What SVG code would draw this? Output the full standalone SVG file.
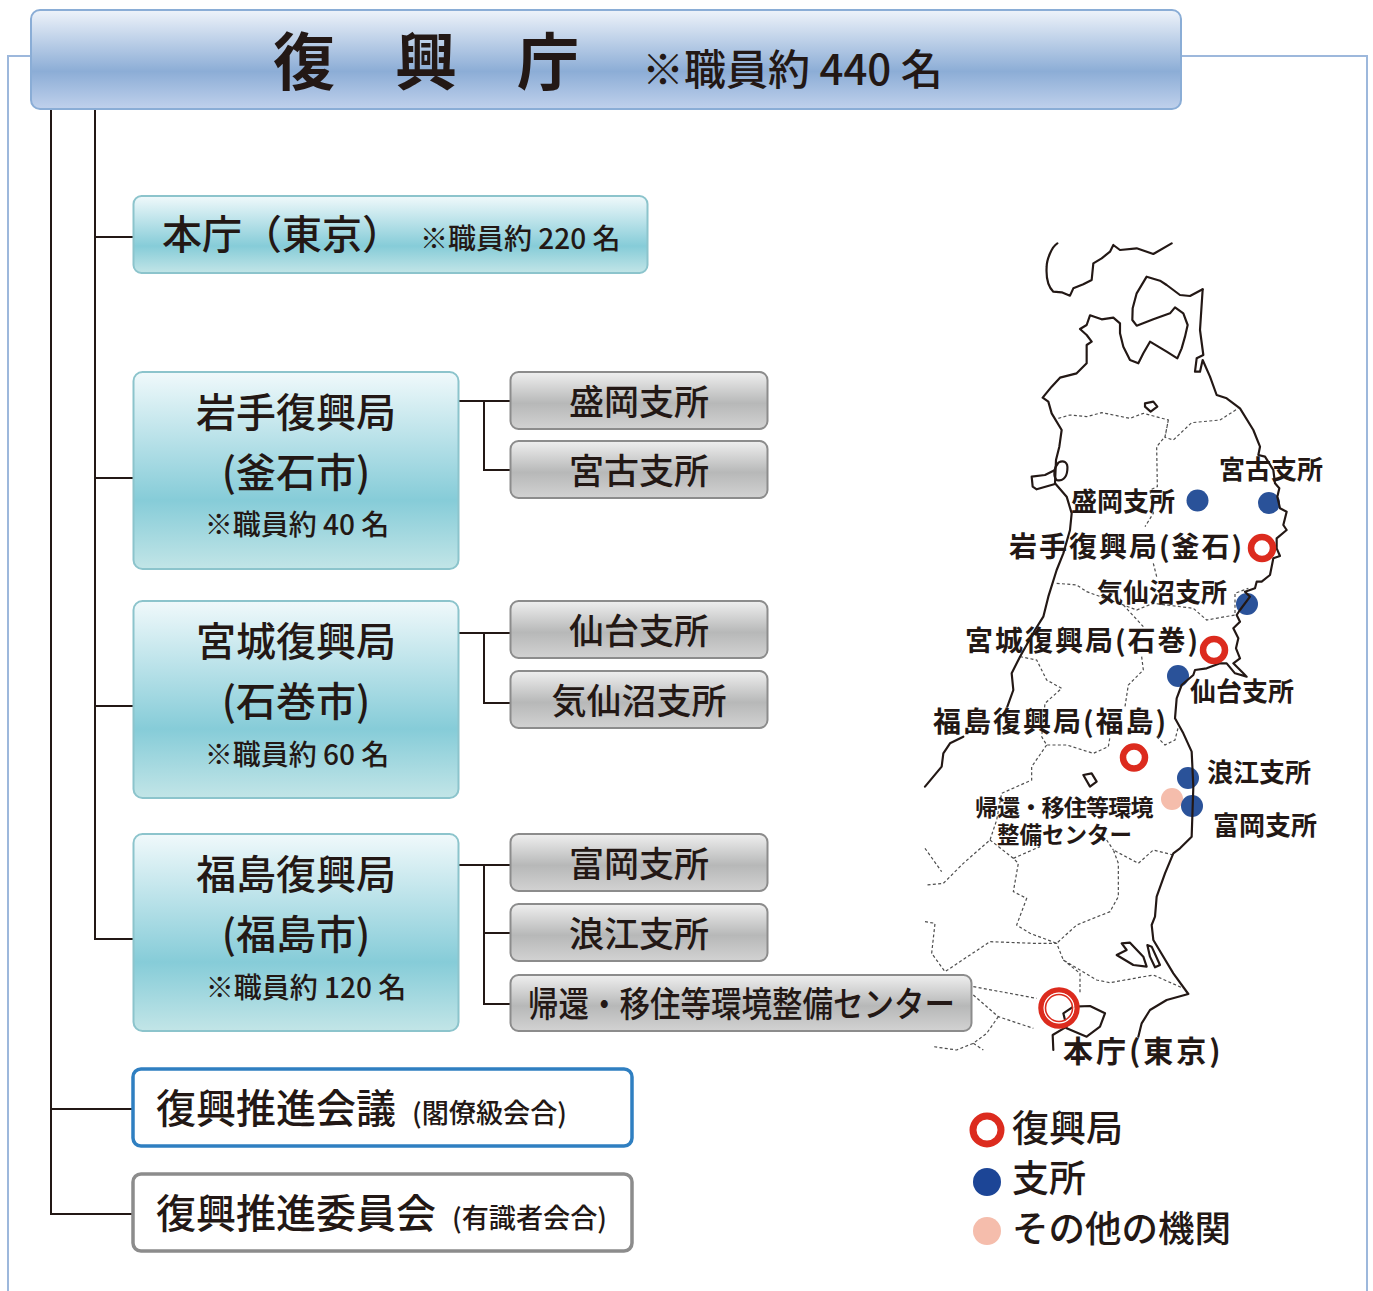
<svg xmlns="http://www.w3.org/2000/svg" width="1373" height="1291" viewBox="0 0 1373 1291">
<style>
text{font-family:"Noto Sans CJK JP","Noto Sans",sans-serif;fill:#231815;font-weight:500}
.c{text-anchor:middle}
.b{stroke:#231815;stroke-width:2;fill:none}
.coast{fill:none;stroke:#231815;stroke-width:6.5;stroke-linejoin:round;stroke-linecap:round}
.pref{fill:none;stroke:#4d4d4d;stroke-width:3.6;stroke-dasharray:9 7}
.ml{font-weight:700;font-size:26px}
.big{font-weight:700;font-size:28px;letter-spacing:2px}
.blue{fill:#2a5299}
.rr{fill:#fff;stroke:#dc2b1e;stroke-width:6.5}
</style>
<defs>
<linearGradient id="gh" x1="0" y1="0" x2="0" y2="1"><stop offset="0" stop-color="#eef3fa"/><stop offset=".62" stop-color="#8cadd6"/><stop offset="1" stop-color="#c0d1ec"/></linearGradient>
<linearGradient id="gt" x1="0" y1="0" x2="0" y2="1"><stop offset="0" stop-color="#f0f9fb"/><stop offset=".65" stop-color="#86ccd8"/><stop offset="1" stop-color="#c2e5e7"/></linearGradient>
<linearGradient id="gg" x1="0" y1="0" x2="0" y2="1"><stop offset="0" stop-color="#efefef"/><stop offset=".55" stop-color="#b7b8b8"/><stop offset="1" stop-color="#d2d2d2"/></linearGradient>
</defs>

<path d="M31 56H8V1291M1181 56H1367V1291" fill="none" stroke="#9db8dc" stroke-width="2"/>

<g id="connectors">
<path class="b" d="M51 109V1214H133M51 1109H133M95 109V939H133M95 237H133M95 478H133M95 706H133"/>
<path class="b" d="M459 401H510M484 401V470H510M459 633H510M484 633V703H510M459 865H510M484 865V1004H510M484 933H510"/>
</g>

<g id="map">
<circle class="blue" cx="1197.500" cy="500.500" r="11"/>
<circle class="blue" cx="1269" cy="503" r="11"/>
<circle class="blue" cx="1247" cy="604" r="11"/>
<circle class="blue" cx="1178" cy="676" r="11"/>
<circle class="blue" cx="1188" cy="778" r="11"/>
<circle cx="1172" cy="799" r="11" fill="#f5bdac"/>
<circle class="blue" cx="1192" cy="806" r="11"/>
<g transform="translate(920 230) scale(.33333)">
<path class="pref" d="M415 565L450 555L500 560L545 548L630 565L670 550L745 570L735 620L710 650L712 770L690 780L700 850L675 890M745 570L735 622L760 630L815 578L900 570L955 535"/>
<path class="pref" d="M410 1060L470 1065L500 1085L610 1125L650 1140L700 1120L820 1135L860 1170L945 1155L945 1090L985 1075M610 1125L670 1190M700 1000L710 1040"/>
<path class="pref" d="M300 1280L350 1290L380 1350L425 1375L375 1420L365 1520L380 1545L440 1545L520 1570L565 1550L570 1520M665 1280L670 1320L625 1365L615 1430M710 1520L735 1545L765 1530L775 1490M380 1545L335 1610L335 1650L245 1690L230 1770L210 1830L130 1900L70 1960L20 1965M15 1855L65 1925M210 1830L280 1885L295 1900L280 1985L320 2005L290 2085L330 2110L410 2140L470 2085L570 2045L595 2000L595 1900L580 1860L655 1900L700 1860L760 1875M560 1830L580 1860M280 1885L360 1850"/>
<path class="pref" d="M15 2075L45 2080L35 2170L75 2225L210 2135L340 2140L410 2140L430 2190L530 2250L570 2258L700 2235L790 2275M430 2190L480 2230L480 2290M160 2270L350 2305M160 2295L235 2360L340 2395M235 2360L200 2410L160 2440L110 2460L40 2450M160 2440L190 2460"/>
<path class="coast" d="M412 40C395 50 380 90 380 110C378 140 385 170 400 185L425 187L450 197L460 175L490 163L515 150L520 100L545 85L570 65L580 45L600 60L650 55L700 72L755 40"/>
<path class="coast" d="M848 178L810 198L780 195L740 165L720 152L680 140L650 190L638 235L637 270L650 287L700 268L750 250L765 232L790 250L803 285L795 320L785 355L772 385L740 365L690 335L670 370L655 400L630 390L610 350L600 310L600 280L580 263L545 268L510 256L500 285L480 297L500 315L515 335L500 345L500 400L470 430L420 443L395 470L368 503L385 515L395 550L425 600L418 650L408 690L405 760L440 800L455 850L450 900L430 970L410 1020L385 1100L370 1160L345 1200L300 1280L275 1330L280 1380L262 1430"/>
<path class="coast" d="M130 1520L90 1540L70 1570L65 1610L15 1670"/>
<path class="coast" d="M405 720L375 735L335 740L338 770L350 778L405 762"/>
<path class="coast" d="M415 698C430 690 445 695 442 720C440 745 425 755 410 750C400 740 400 715 415 698Z" stroke-width="7"/>
<path class="coast" d="M848 178L840 300L850 375L830 385L825 425L840 425L848 390L870 440L890 495L920 505L960 535L1000 600L1020 650L1015 675L1035 680L1060 720L1065 760L1078 775L1072 800L1080 835L1100 845L1090 885L1100 900L1070 925L1070 955L1080 978L1060 985L1050 1035L1025 1055L1010 1055L1005 1075L975 1085L990 1100L960 1140L950 1155L960 1175L940 1195L955 1225L948 1255L960 1285L940 1300L970 1330L980 1340L945 1330L920 1300L900 1300L860 1315L825 1320L820 1335L785 1365L770 1405L765 1465L790 1510L815 1565L820 1670L815 1820L780 1855L760 1870L735 1930L710 2000L705 2060L695 2085L700 2130L760 2230L805 2292L740 2310L690 2340L665 2380L655 2420"/>
<path class="coast" d="M400 2460L398 2415L440 2390L430 2350L460 2330L510 2328L555 2350L540 2390L500 2420L440 2395"/>
<path class="coast" d="M490 1635L515 1630L530 1655L510 1670Z" stroke-width="4"/>
<path class="coast" d="M675 520L700 515L712 530L692 545L675 530Z" stroke-width="4"/>
<path class="coast" d="M590 2175L620 2160L605 2140L630 2138L670 2180L680 2210L640 2205Z"/>
<path class="coast" d="M682 2145L695 2150L720 2205L705 2212L690 2180Z"/>
</g>
<circle class="rr" cx="1262" cy="548" r="11"/>
<circle class="rr" cx="1214" cy="650" r="11"/>
<circle class="rr" cx="1134" cy="757.500" r="11"/>
<circle cx="1059" cy="1008" r="18" fill="none" stroke="#dc2b1e" stroke-width="5.500"/>
<circle cx="1059" cy="1008" r="14.800" fill="none" stroke="#fff" stroke-width="1.200"/>
<circle cx="1059" cy="1008" r="13.500" fill="none" stroke="#dc2b1e" stroke-width="1.600"/>
<text class="ml" x="1219" y="479">宮古支所</text>
<text class="ml" x="1071" y="511">盛岡支所</text>
<text class="big" x="1009" y="557">岩手復興局(釜石)</text>
<text class="ml" x="1097" y="602">気仙沼支所</text>
<text class="big" x="965" y="651">宮城復興局(石巻)</text>
<text class="ml" x="1190" y="701">仙台支所</text>
<text class="big" x="933" y="732">福島復興局(福島)</text>
<text class="ml" x="1207" y="782">浪江支所</text>
<text class="ml" x="1213" y="835">富岡支所</text>
<text class="ml" x="975" y="816" style="font-size:23px;letter-spacing:-.8px">帰還・移住等環境</text>
<text class="ml" x="997" y="843" style="font-size:22.500px">整備センター</text>
<text class="ml" x="1063" y="1062" style="font-size:30px;letter-spacing:3px">本庁(東京)</text>
</g>

<g id="legend">
<circle cx="987" cy="1130" r="14" fill="#fff" stroke="#dc2b1e" stroke-width="7"/>
<circle cx="987" cy="1182" r="14" fill="#1c4596"/>
<circle cx="987" cy="1231" r="14" fill="#f5bdac"/>
<text x="1012" y="1142" font-size="37">復興局</text>
<text x="1012" y="1192" font-size="37">支所</text>
<text x="1012" y="1242" font-size="36.500">その他の機関</text>
</g>

<g id="n-hq">
<rect x="31" y="10" width="1150" height="99" rx="9" fill="url(#gh)" stroke="#8aadd6" stroke-width="2"/>
<text x="273" y="85" font-size="62" font-weight="700" style="font-weight:700">復</text><text x="395" y="85" font-size="62" style="font-weight:700">興</text><text x="517" y="85" font-size="62" style="font-weight:700">庁</text>
<text x="642" y="85" font-size="42">※職員約 440 名</text>
</g>
<g id="n-honcho">
<rect x="133.500" y="196" width="514" height="77" rx="8" fill="url(#gt)" stroke="#8cc4cc" stroke-width="2"/>
<text x="162" y="249" font-size="40">本庁（東京）</text>
<text x="420" y="249" font-size="28">※職員約 220 名</text>
</g>
<g id="n-iwate">
<rect x="133.500" y="372" width="325" height="197" rx="9" fill="url(#gt)" stroke="#8cc4cc" stroke-width="2"/>
<text class="c" x="296" y="427" font-size="40">岩手復興局</text>
<text class="c" x="296" y="487" font-size="40">(釜石市)</text>
<text class="c" x="297" y="535" font-size="28">※職員約 40 名</text>
</g>
<g id="n-miyagi">
<rect x="133.500" y="601" width="325" height="197" rx="9" fill="url(#gt)" stroke="#8cc4cc" stroke-width="2"/>
<text class="c" x="296" y="656" font-size="40">宮城復興局</text>
<text class="c" x="296" y="716" font-size="40">(石巻市)</text>
<text class="c" x="297" y="765" font-size="28">※職員約 60 名</text>
</g>
<g id="n-fukushima">
<rect x="133.500" y="834" width="325" height="197" rx="9" fill="url(#gt)" stroke="#8cc4cc" stroke-width="2"/>
<text class="c" x="296" y="889" font-size="40">福島復興局</text>
<text class="c" x="296" y="949" font-size="40">(福島市)</text>
<text class="c" x="306" y="998" font-size="28">※職員約 120 名</text>
</g>
<g id="n-morioka"><rect x="510.500" y="372" width="257" height="57" rx="8" fill="url(#gg)" stroke="#8c8c8c" stroke-width="2"/><text class="c" x="639" y="415" font-size="35">盛岡支所</text></g>
<g id="n-miyako"><rect x="510.500" y="441" width="257" height="57" rx="8" fill="url(#gg)" stroke="#8c8c8c" stroke-width="2"/><text class="c" x="639" y="484" font-size="35">宮古支所</text></g>
<g id="n-sendai"><rect x="510.500" y="601" width="257" height="57" rx="8" fill="url(#gg)" stroke="#8c8c8c" stroke-width="2"/><text class="c" x="639" y="644" font-size="35">仙台支所</text></g>
<g id="n-kesennuma"><rect x="510.500" y="671" width="257" height="57" rx="8" fill="url(#gg)" stroke="#8c8c8c" stroke-width="2"/><text class="c" x="639" y="714" font-size="35">気仙沼支所</text></g>
<g id="n-tomioka"><rect x="510.500" y="834" width="257" height="57" rx="8" fill="url(#gg)" stroke="#8c8c8c" stroke-width="2"/><text class="c" x="639" y="877" font-size="35">富岡支所</text></g>
<g id="n-namie"><rect x="510.500" y="904" width="257" height="57" rx="8" fill="url(#gg)" stroke="#8c8c8c" stroke-width="2"/><text class="c" x="639" y="947" font-size="35">浪江支所</text></g>
<g id="n-center"><rect x="510.500" y="975" width="461" height="56" rx="8" fill="url(#gg)" stroke="#8c8c8c" stroke-width="2"/><text x="528" y="1017" font-size="35" textLength="427" lengthAdjust="spacingAndGlyphs">帰還・移住等環境整備センター</text></g>
<g id="n-kaigi">
<rect x="133" y="1069" width="499" height="77" rx="8" fill="#fff" stroke="#2f7fc1" stroke-width="3.500"/>
<text x="156" y="1123" font-size="40">復興推進会議</text>
<text x="412" y="1123" font-size="27" textLength="155" lengthAdjust="spacingAndGlyphs">(閣僚級会合)</text>
</g>
<g id="n-iinkai">
<rect x="133" y="1174" width="499" height="77" rx="8" fill="#fff" stroke="#8c8c8c" stroke-width="3.500"/>
<text x="156" y="1228" font-size="40">復興推進委員会</text>
<text x="452" y="1228" font-size="27" textLength="155" lengthAdjust="spacingAndGlyphs">(有識者会合)</text>
</g>
</svg>
